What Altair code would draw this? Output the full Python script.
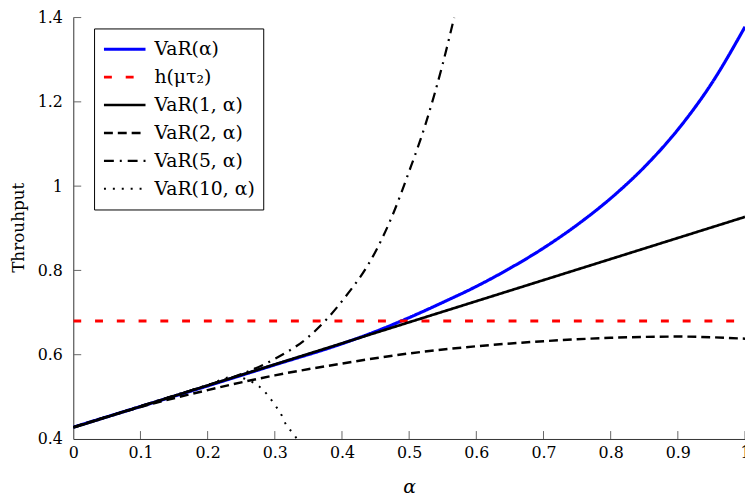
import altair as alt
import pandas as pd

# ---- data ----
series_names = ["VaR(α)", "h(μτ₂)", "VaR(1, α)", "VaR(2, α)", "VaR(5, α)", "VaR(10, α)"]
series_colors = ["#0000ff", "#ff0000", "#000000", "#000000", "#000000", "#000000"]
series_dashes = [[1, 0], [8, 14], [1, 0], [9, 5], [10, 6, 2, 6], [2, 7]]
series_widths = [3.2, 2.0, 1.1, 2.0, 2.0, 2.0]

var_a = [0, 0.1, 0.2, 0.3, 0.4, 0.45, 0.5, 0.55, 0.6, 0.65, 0.7, 0.75, 0.8, 0.85, 0.9, 0.95, 1.0]
var_v = [0.428, 0.477, 0.526, 0.576, 0.626, 0.655, 0.688, 0.724, 0.762, 0.805, 0.853, 0.908,
         0.971, 1.045, 1.134, 1.243, 1.378]

h_a = [0, 1]
h_v = [0.68, 0.68]

var1_a = [0, 1]
var1_v = [0.427, 0.927]

var2_a = [0, 0.1, 0.2, 0.3, 0.4, 0.5, 0.6, 0.7, 0.8, 0.9, 1.0]
var2_v = [0.428, 0.476, 0.516, 0.551, 0.579, 0.603, 0.620, 0.632, 0.640, 0.643, 0.638]

var5_a = [0, 0.1, 0.2, 0.25, 0.3, 0.35, 0.4, 0.45, 0.475, 0.5, 0.525, 0.55, 0.567]
var5_v = [0.428, 0.478, 0.528, 0.554, 0.590, 0.642, 0.727, 0.845, 0.930, 1.035, 1.150, 1.290, 1.40]

var10_a = [0, 0.1, 0.2, 0.24, 0.26, 0.278, 0.29, 0.30, 0.31, 0.317, 0.327, 0.333]
var10_v = [0.428, 0.478, 0.528, 0.548, 0.540, 0.523, 0.503, 0.481, 0.457, 0.433, 0.414, 0.400]

x_ticks = [0, 0.1, 0.2, 0.3, 0.4, 0.5, 0.6, 0.7, 0.8, 0.9, 1.0]
y_ticks = [0.4, 0.6, 0.8, 1.0, 1.2, 1.4]

# ---- build table ----
pairs = [(var_a, var_v), (h_a, h_v), (var1_a, var1_v), (var2_a, var2_v), (var5_a, var5_v), (var10_a, var10_v)]
rows = []
for name, (xs, ys) in zip(series_names, pairs):
    for i, (a, v) in enumerate(zip(xs, ys)):
        rows.append({"series": name, "alpha": a, "value": v, "i": i})
df = pd.DataFrame(rows)

FONT = "DejaVu Serif"
PW, PH = 679, 426

x_scale = alt.Scale(domain=[0, 1], nice=False, zero=False)
y_scale = alt.Scale(domain=[0.4, 1.4], nice=False, zero=False)

x_axis = alt.Axis(values=x_ticks, labelExpr="format(datum.value, '~g')", ticks=False, grid=False,
                  labelFlush=False, labelOverlap=False, labelPadding=6, labelFont=FONT, labelFontSize=16,
                  labelColor="black", domainColor="#333", domainWidth=1,
                  titleFont=FONT, titleFontSize=19, titleFontStyle="italic", titleFontWeight="normal",
                  titleColor="black", titleX=PW / 2, titleY=54, titleBaseline="alphabetic", titleAlign="center")
y_axis = alt.Axis(values=y_ticks, labelExpr="format(datum.value, '~g')", ticks=False, grid=False,
                  labelFlush=False, labelOverlap=False, labelPadding=11, labelFont=FONT, labelFontSize=16,
                  labelColor="black", domainColor="#333", domainWidth=1,
                  titleFont=FONT, titleFontSize=17, titleFontWeight="normal", titleColor="black",
                  titleX=-55, titleY=PH / 2 - 1, titleAngle=270, titleBaseline="middle", titleAlign="center")

X = alt.X("alpha:Q", scale=x_scale, axis=x_axis, title="α")
Y = alt.Y("value:Q", scale=y_scale, axis=y_axis, title="Throuhput")

legend = alt.Legend(title=None, orient="none", legendX=21, legendY=11, strokeColor="black",
                    fillColor="white", padding=8, symbolType="stroke", symbolSize=1764,
                    clipHeight=26, rowPadding=2.2, labelOffset=7, labelFont=FONT, labelFontSize=19,
                    labelColor="black", labelLimit=300)

color = alt.Color("series:N", scale=alt.Scale(domain=series_names, range=series_colors), legend=legend)
dash = alt.StrokeDash("series:N", scale=alt.Scale(domain=series_names, range=series_dashes), legend=legend)
sw = alt.StrokeWidth("series:N", scale=alt.Scale(domain=series_names, range=series_widths), legend=legend)

base = alt.Chart(df).mark_line(clip=True, interpolate="monotone").encode(
    x=X, y=Y, color=color, strokeDash=dash, strokeWidth=sw, order="i:Q"
)
line_layers = [base.transform_filter(alt.datum.series == s) for s in series_names]

xt = alt.Chart(pd.DataFrame({"alpha": x_ticks[1:]})).mark_rule(color="#666", strokeWidth=1).encode(
    x=X, y=alt.value(PH), y2=alt.value(PH - 8)
)
yt = alt.Chart(pd.DataFrame({"value": y_ticks[1:]})).mark_rule(color="#666", strokeWidth=1).encode(
    y=Y, x=alt.value(0), x2=alt.value(8)
)

chart = alt.layer(xt, yt, *line_layers).properties(
    width=PW, height=PH,
    padding={"left": 66, "top": 7, "right": 0, "bottom": 58},
    autosize=alt.AutoSizeParams(type="none"),
).configure_view(stroke=None)

chart.save("out.html", embed_options={"renderer": "svg", "actions": False})
